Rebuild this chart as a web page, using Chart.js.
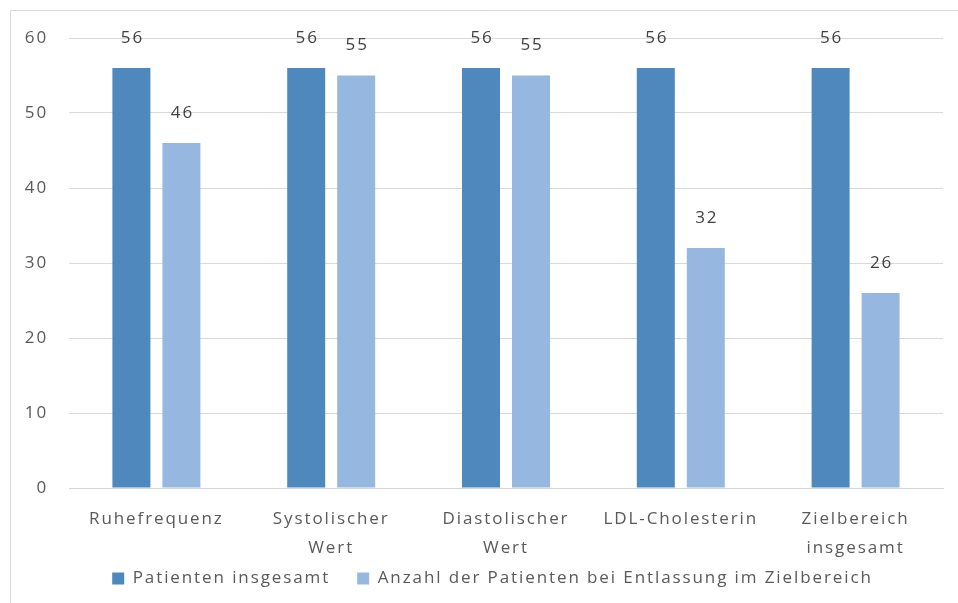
<!DOCTYPE html>
<html>
<head>
<meta charset="utf-8">
<script src="https://cdn.jsdelivr.net/npm/chart.js@4"></script>
<style>
html,body{margin:0;padding:0;background:#fff;}
#wrap{width:958px;height:603px;position:relative;}
</style>
</head>
<body>
<div id="wrap"><canvas id="c" width="958" height="603"></canvas></div>
<script>
const categories = [
  'Ruhefrequenz',
  ['Systolischer', 'Wert'],
  ['Diastolischer', 'Wert'],
  'LDL-Cholesterin',
  ['Zielbereich', 'insgesamt']
];
const seriesNames = ['Patienten insgesamt', 'Anzahl der Patienten bei Entlassung im Zielbereich'];
const patientenInsgesamt = [56, 56, 56, 56, 56];
const imZielbereich = [46, 55, 55, 32, 26];
const yTicks = [0, 10, 20, 30, 40, 50, 60];

const FONT = '"Open Sans", "DejaVu Sans", sans-serif';
const SPACING = '1.9px';

const spacingPlugin = {
  id: 'spacing',
  beforeUpdate(chart) { chart.ctx.letterSpacing = SPACING; },
  afterLayout(chart) {
    // widen the label clip boxes so labels are not cut off
    chart.scales.y.left = 0;
    chart.scales.x.bottom = chart.height;
  },
  beforeDraw(chart) {
    const ctx = chart.ctx;
    ctx.letterSpacing = SPACING;
    ctx.save();
    ctx.strokeStyle = '#d9d9d9';
    ctx.lineWidth = 1;
    ctx.beginPath();
    ctx.moveTo(10.5, 620);
    ctx.lineTo(10.5, 10.5);
    ctx.lineTo(970, 10.5);
    ctx.stroke();
    ctx.restore();
  }
};

const labelPlugin = {
  id: 'valueLabels',
  afterDatasetsDraw(chart) {
    const ctx = chart.ctx;
    ctx.save();
    ctx.letterSpacing = SPACING;
    ctx.font = '17px ' + FONT;
    ctx.fillStyle = '#404040';
    ctx.textAlign = 'center';
    ctx.textBaseline = 'middle';
    chart.data.datasets.forEach((ds, di) => {
      const meta = chart.getDatasetMeta(di);
      meta.data.forEach((bar, i) => {
        ctx.fillText(String(ds.data[i]), bar.x + 1, bar.y - 30);
      });
    });
    ctx.restore();
  }
};

new Chart(document.getElementById('c'), {
  type: 'bar',
  data: {
    labels: categories,
    datasets: [
      { label: seriesNames[0], data: patientenInsgesamt, backgroundColor: '#4f88bd' },
      { label: seriesNames[1], data: imZielbereich, backgroundColor: '#96b8e0' }
    ]
  },
  options: {
    responsive: false,
    animation: false,
    devicePixelRatio: 1,
    categoryPercentage: 0.572,
    barPercentage: 0.76,
    layout: { padding: { left: 42, right: 15, top: 38, bottom: 6 } },
    plugins: {
      legend: {
        position: 'bottom',
        labels: {
          boxWidth: 12,
          boxHeight: 12,
          padding: 27,
          color: '#595959',
          font: { family: FONT, size: 17 }
        }
      },
      tooltip: { enabled: false }
    },
    scales: {
      x: {
        grid: { display: false, drawTicks: false },
        border: { color: '#d4d4d4', width: 1 },
        ticks: {
          color: '#595959',
          padding: 17,
          maxRotation: 0,
          autoSkip: false,
          font: { family: FONT, size: 17, lineHeight: 1.7 }
        },
        afterFit(scale) { scale.height = 55; }
      },
      y: {
        min: 0,
        max: 60,
        afterBuildTicks(scale) { scale.ticks = yTicks.map(v => ({ value: v })); },
        grid: { color: '#d9d9d9', drawTicks: false },
        border: { display: false },
        ticks: {
          color: '#595959',
          padding: 21,
          font: { family: FONT, size: 17 }
        },
        afterFit(scale) { scale.width = 27; }
      }
    }
  },
  plugins: [spacingPlugin, labelPlugin]
});
</script>
</body>
</html>
